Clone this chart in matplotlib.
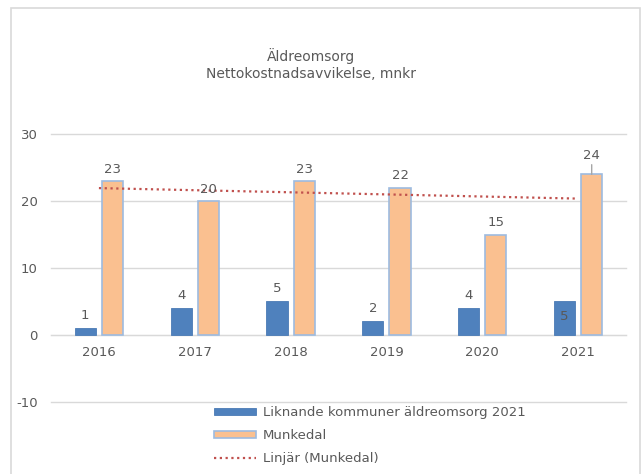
import matplotlib
matplotlib.use("Agg")
import matplotlib.pyplot as plt
from matplotlib.patches import Rectangle
import numpy as np

YEARS = ["2016", "2017", "2018", "2019", "2020", "2021"]
LIKNANDE = [1, 4, 5, 2, 4, 5]
MUNKEDAL = [23, 20, 23, 22, 15, 24]
Y_TICKS = [-10, 0, 10, 20, 30]

TITLE = "Äldreomsorg\nNettokostnadsavvikelse, mnkr"
LBL_LIK = "Liknande kommuner äldreomsorg 2021"
LBL_MUN = "Munkedal"
LBL_TREND = "Linjär (Munkedal)"

BLUE = "#4F81BD"
ORANGE = "#FAC090"
ORANGE_EDGE = "#9DBBE0"
RED = "#C0504D"
GRID = "#D9D9D9"
TEXT = "#595959"

W, H = 642, 474

plt.rcParams.update({
    "font.family": "DejaVu Sans",
    "font.size": 9,
    "text.color": TEXT,
    "xtick.color": TEXT,
    "ytick.color": TEXT,
    "axes.unicode_minus": False,
})


def px(x, y):
    """pixel (from top-left) -> figure fraction"""
    return x / W, 1 - y / H


fig = plt.figure(figsize=(W / 100, H / 100), dpi=100)

# outer chart frame (right/bottom edges run off the picture)
fig.patches.append(Rectangle(px(11.5, 480), (640 - 11.5) / W, (480 - 8) / H,
                             transform=fig.transFigure, fill=False,
                             edgecolor=GRID, lw=1.2))

x0, y0 = px(51, 401.7)
x1, y1 = px(626, 134.3)
ax = fig.add_axes([x0, y0, x1 - x0, y1 - y0])

x = np.arange(len(YEARS))
bw = 0.22
off = 0.142
ax.bar(x - off, LIKNANDE, width=bw, color=BLUE, edgecolor="#4A7AB5",
       lw=0.6, label=LBL_LIK, zorder=3)
ax.bar(x + off, MUNKEDAL, width=bw, color=ORANGE, edgecolor=ORANGE_EDGE,
       lw=1.2, label=LBL_MUN, zorder=3)

# linear trendline of Munkedal
slope, icpt = np.polyfit(x, MUNKEDAL, 1)
ax.plot(x, slope * x + icpt, color=RED, ls=(0, (1, 1.6)), lw=1.6,
        label=LBL_TREND, zorder=4)

# data labels
for i, v in enumerate(LIKNANDE):
    dy = -15 if i == len(LIKNANDE) - 1 else 13
    ax.annotate(str(v), (x[i] - off, v), xytext=(0, dy),
                textcoords="offset pixels", ha="center", va="center",
                fontsize=9.5, zorder=5)
for i, v in enumerate(MUNKEDAL):
    if i == len(MUNKEDAL) - 1:
        ax.annotate(str(v), (x[i] + off, v), xytext=(0, 19),
                    textcoords="offset pixels", ha="center", va="center",
                    fontsize=9.5, zorder=5,
                    arrowprops=dict(arrowstyle="-", color="#A6A6A6", lw=1,
                                    shrinkA=7, shrinkB=0))
    else:
        ax.annotate(str(v), (x[i] + off, v), xytext=(0, 12),
                    textcoords="offset pixels", ha="center", va="center",
                    fontsize=9.5, zorder=5)

ax.set_xlim(-0.5, len(YEARS) - 0.5)
ax.set_ylim(Y_TICKS[0], Y_TICKS[-1])
ax.set_yticks(Y_TICKS)
ax.set_xticks(x)
ax.set_xticklabels(YEARS)
ax.grid(axis="y", color=GRID, lw=1, zorder=0)
for gl in ax.get_ygridlines():
    gl.set_clip_on(False)
for s in ("top", "right", "left"):
    ax.spines[s].set_visible(False)
ax.spines["bottom"].set_position(("data", 0))
ax.spines["bottom"].set_color(GRID)
ax.spines["bottom"].set_zorder(2)
ax.tick_params(axis="both", length=0, labelsize=9.5)
ax.tick_params(axis="y", pad=9.5)
ax.tick_params(axis="x", pad=8)
ax.set_facecolor("none")

fig.text(*px(311, 64.5), TITLE, ha="center", va="center", fontsize=10,
         linespacing=1.25)

handles, labels = ax.get_legend_handles_labels()
order = [labels.index(LBL_LIK), labels.index(LBL_MUN), labels.index(LBL_TREND)]
ax.legend([handles[i] for i in order], [labels[i] for i in order],
          loc="upper left", bbox_to_anchor=px(205, 397), bbox_transform=fig.transFigure,
          frameon=False, fontsize=9.5, handlelength=3.2, handleheight=0.5,
          handletextpad=0.5, labelspacing=0.75, borderpad=0.2)

fig.savefig("out.png", dpi=100)
